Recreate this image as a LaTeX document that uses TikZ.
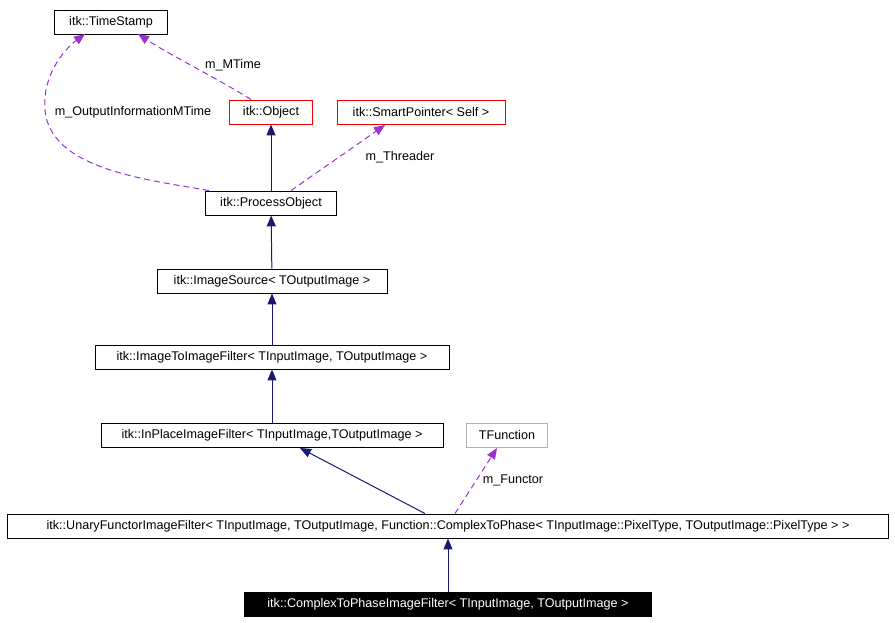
\documentclass[tikz,border=0pt]{standalone}
\usepackage{fontspec}
\setmainfont{Liberation Sans}
\usetikzlibrary{arrows.meta}
\definecolor{navy}{RGB}{25,25,112}
\definecolor{mpurple}{RGB}{154,50,205}
\tikzset{
  cls/.style={draw=black, line width=0.9pt, fill=white, inner sep=0pt, minimum height=24pt, font=\fontsize{12.6}{14}\selectfont},
  inh/.style={navy, line width=1pt, -{Triangle[length=11pt,width=9pt]}},
  use/.style={mpurple, line width=1pt, dash pattern=on 6pt off 4pt, -{Triangle[length=11pt,width=9pt]}},
  lbl/.style={font=\fontsize{12.6}{14}\selectfont, inner sep=1pt, fill=white}
}
\begin{document}
\begin{tikzpicture}[x=1pt,y=-1pt]
\useasboundingbox (0,0) rectangle (895,623);
\node[cls, minimum width=113pt] (ts) at (111,22) {itk::TimeStamp};
\node[cls, draw=red, minimum width=83pt] (obj) at (271,112) {itk::Object};
\node[cls, draw=red, minimum width=168pt] (sp) at (421,112) {itk::SmartPointer< Self >};
\node[cls, minimum width=131pt] (po) at (271,203) {itk::ProcessObject};
\node[cls, minimum width=230pt] (is) at (272,281) {itk::ImageSource< TOutputImage >};
\node[cls, minimum width=354pt] (itif) at (272,357) {itk::ImageToImageFilter< TInputImage, TOutputImage >};
\node[cls, minimum width=342pt] (ipif) at (272,435) {itk::InPlaceImageFilter< TInputImage,TOutputImage >};
\node[cls, draw=gray!60, minimum width=81pt] (tf) at (507,435) {TFunction};
\node[cls, minimum width=881pt] (uf) at (448,526) {itk::UnaryFunctorImageFilter< TInputImage, TOutputImage, Function::ComplexToPhase< TInputImage::PixelType, TOutputImage::PixelType > >};
\node[cls, fill=black, text=white, minimum width=407pt] (ctp) at (448,604) {itk::ComplexToPhaseImageFilter< TInputImage, TOutputImage >};
% inheritance
\draw[inh] (po) -- (obj);
\draw[inh] (is) -- (po);
\draw[inh] (itif) -- (is);
\draw[inh] (ipif) -- (itif);
\draw[inh] (uf.north -| 425,0) -- (300,448);
\draw[inh] (ctp) -- (uf);
% members
\draw[use] (po.north west) ++(4,0) .. controls (150,180) and (50,170) .. (45,110) .. controls (42,70) and (70,45) .. (85,34);
\node[lbl] at (133,112) {m\_OutputInformationMTime};
\draw[use] (obj.north) ++(-20,0) .. controls (220,80) and (170,55) .. (138,34);
\node[lbl] at (233,65) {m\_MTime};
\draw[use] (po.north) ++(20,0) -- (385,125);
\node[lbl] at (400,157) {m\_Threader};
\draw[use] (uf.north -| 455,0) -- (497,448);
\node[lbl] at (513,480) {m\_Functor};
\end{tikzpicture}
\end{document}
